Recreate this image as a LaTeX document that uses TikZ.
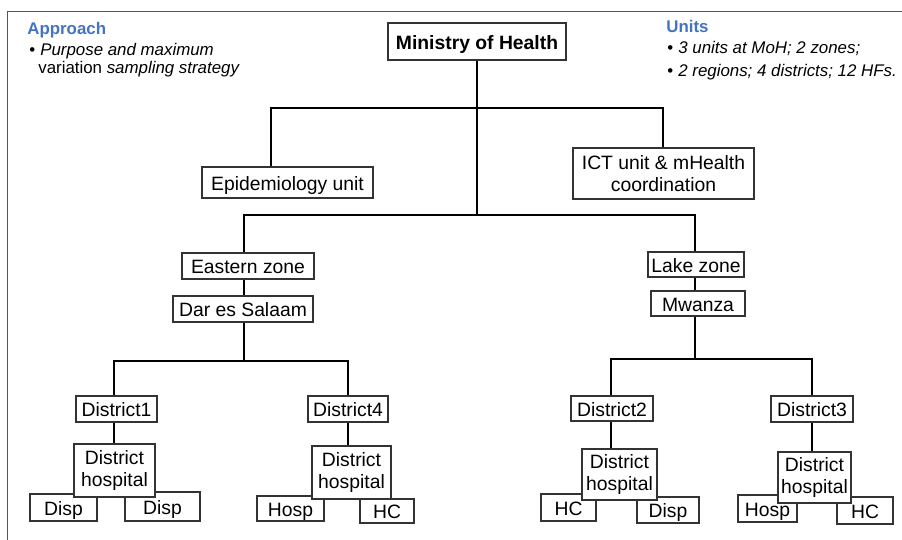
\documentclass[tikz,border=0pt]{standalone}
\usepackage{fontspec}
\setmainfont{Liberation Sans}
\usepackage{tikz}
\definecolor{headblue}{HTML}{4472C4}
\definecolor{boxgray}{HTML}{333333}
\definecolor{framegray}{HTML}{555555}
\newcommand{\orgfont}{\fontsize{11}{12.8}\selectfont}
\newcommand{\notefont}{\fontsize{9.6}{11.5}\selectfont}
\newcommand{\bulletmark}{\makebox[0.22cm][l]{\textbullet}}
\pgfkeys{tikz/orgbox/.style={draw=boxgray, line width=0.6pt, fill=white,
                                 inner sep=0pt, font=\orgfont, align=center}}
\pgfkeys{tikz/oneline/.style={text height=9pt, text depth=0pt}}
\pgfkeys{tikz/wh/.style 2 args={minimum width=#1*0.02cm, minimum height=#2*0.02cm}}
\pgfkeys{tikz/link/.style={line width=1.1pt, black}}
\pgfkeys{tikz/note/.style={anchor=base west, inner sep=0pt, font=\notefont}}

\begin{document}
\begin{tikzpicture}[x=0.02cm, y=-0.02cm]
            \useasboundingbox (0,0) rectangle (902,540);
            \draw[framegray, line width=0.5pt] (7,540) -- (7,11) -- (902,11);

            \node[note, font=\notefont\bfseries, text=headblue] (approach) at (27,35) {Approach};
            \node[note] (apline1) at (29,56) {\bulletmark\textit{Purpose and maximum}};
            \node[note] (apline2) at (38,74) {variation \textit{sampling strategy}};

            \node[note, font=\notefont\bfseries, text=headblue] (units) at (666,33) {Units};
            \node[note] (unline1) at (667,54) {\bulletmark\textit{3 units at MoH; 2 zones;}};
            \node[note] (unline2) at (667,77) {\bulletmark\textit{2 regions; 4 districts; 12 HFs.}};

            \node[orgbox, oneline, wh={178}{37}, font=\orgfont\bfseries] (moh) at (477,41.5) {Ministry of Health};

            \node[orgbox, oneline, wh={171}{31}] (epi) at (287.5,182.5) {Epidemiology unit};
            \node[orgbox, wh={181}{51}] (ict) at (663.5,173.5) {ICT unit \& mHealth\\coordination};

            \coordinate (j1) at (477,108);
            \coordinate (j1w) at (271,108);
            \coordinate (j1e) at (663,108);
            \coordinate (j2) at (477,215);
            \coordinate (j2w) at (244,215);
            \coordinate (j2e) at (695,215);

            \draw[link] (moh) -- (j2);
            \draw[link] (j1w |- epi.north) -- (j1w) -- (j1e) -- (j1e |- ict.north);

            \node[orgbox, oneline, wh={132}{26}] (eastern) at (248,266) {Eastern zone};
            \node[orgbox, oneline, wh={140}{26}] (dar) at (243,309) {Dar es Salaam};
            \node[orgbox, oneline, wh={96}{25}] (lake) at (696,264.5) {Lake zone};
            \node[orgbox, oneline, wh={94}{25}] (mwanza) at (698,303.5) {Mwanza};

            \draw[link] (j2w |- eastern.north) -- (j2w) -- (j2e) -- (j2e |- lake.north);
            \draw[link] (j2w |- eastern.south) -- (j2w |- dar.north);
            \draw[link] (j2e |- lake.south) -- (j2e |- mwanza.north);

            \coordinate (j3) at (244,361);
            \coordinate (j3w) at (114,361);
            \coordinate (j3e) at (348,361);
            \coordinate (j4) at (695,359);
            \coordinate (j4w) at (611,359);
            \coordinate (j4e) at (812,359);

            \draw[link] (j2w |- dar.south) -- (j3);
            \draw[link] (j2e |- mwanza.south) -- (j4);

            \node[orgbox, oneline, wh={81}{26}] (d1) at (116.5,409) {District1};
            \node[orgbox, oneline, wh={80}{26}] (d4) at (348,409) {District4};
            \node[orgbox, oneline, wh={82}{25}] (d2) at (612,408.5) {District2};
            \node[orgbox, oneline, wh={82}{26}] (d3) at (812,409) {District3};

            \draw[link] (j3w |- d1.north) -- (j3w) -- (j3e) -- (j3e |- d4.north);
            \draw[link] (j4w |- d2.north) -- (j4w) -- (j4e) -- (j4e |- d3.north);

            \node[orgbox, oneline, wh={67}{27}] (disp1a) at (63.5,507.5) {Disp};
            \node[orgbox, oneline, wh={75}{29}] (disp1b) at (162.5,506.5) {Disp};
            \node[orgbox, oneline, wh={67}{25}] (hosp4) at (290.5,508.5) {Hosp};
            \node[orgbox, oneline, wh={54}{24}] (hc4) at (387,511) {HC};
            \node[orgbox, oneline, wh={55}{27}] (hc2) at (568.5,507.5) {HC};
            \node[orgbox, oneline, wh={62}{26}] (disp2) at (668,510) {Disp};
            \node[orgbox, oneline, wh={59}{27}] (hosp3) at (767.5,508.5) {Hosp};
            \node[orgbox, oneline, wh={56}{27}] (hc3) at (865,510.5) {HC};

            \node[orgbox, wh={81}{53}] (dh1) at (114.5,470.5) {District\\hospital};
            \node[orgbox, wh={79}{53}] (dh4) at (351.5,472.5) {District\\hospital};
            \node[orgbox, wh={75}{51}] (dh2) at (619.5,474.5) {District\\hospital};
            \node[orgbox, wh={73}{51}] (dh3) at (814.5,477.5) {District\\hospital};

            \draw[link] (j3w |- d1.south) -- (j3w |- dh1.north);
            \draw[link] (j3e |- d4.south) -- (j3e |- dh4.north);
            \draw[link] (j4w |- d2.south) -- (j4w |- dh2.north);
            \draw[link] (j4e |- d3.south) -- (j4e |- dh3.north);
\end{tikzpicture}
\end{document}
